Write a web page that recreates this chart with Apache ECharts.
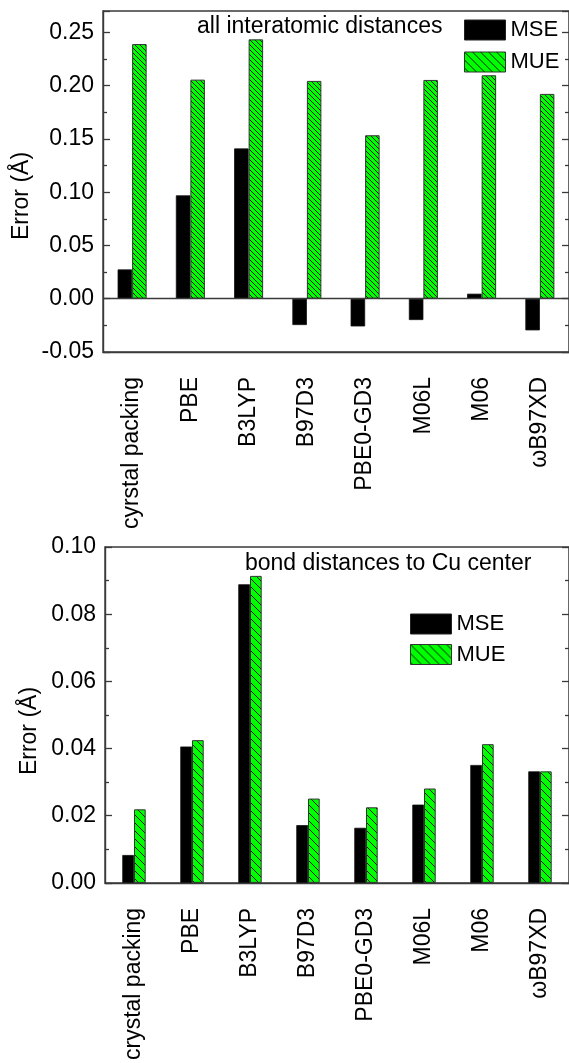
<!DOCTYPE html>
<html><head><meta charset="utf-8">
<script src="https://cdn.jsdelivr.net/npm/echarts@6/dist/echarts.min.js"></script>
<style>html,body{margin:0;padding:0;background:#fff}#c{width:569px;height:1063px}</style>
</head><body><div id="c"></div>
<script>
// ---- data ----
const categoriesTop = ['cyrstal packing','PBE','B3LYP','B97D3','PBE0-GD3','M06L','M06','\u03c9B97XD'];
const categoriesBottom = ['crystal packing','PBE','B3LYP','B97D3','PBE0-GD3','M06L','M06','\u03c9B97XD'];
const mseTop = [0.0275, 0.097, 0.141, -0.0247, -0.026, -0.020, 0.0047, -0.0297];
const mueTop = [0.239, 0.2056, 0.2434, 0.2044, 0.1534, 0.2053, 0.2097, 0.1922];
const mseBottom = [0.0083, 0.0406, 0.0889, 0.0172, 0.0164, 0.0233, 0.0351, 0.0332];
const mueBottom = [0.0219, 0.0425, 0.0914, 0.0251, 0.0225, 0.0281, 0.0413, 0.0332];
const titleTop = 'all interatomic distances';
const titleBottom = 'bond distances to Cu center';
const yNameText = 'Error (\u00c5)';
const seriesNames = ['MSE', 'MUE'];

const FONT = "'Liberation Sans', Arial, sans-serif";
const FRAME = '#3a3a3a';

function hatch(size) {
  const c = document.createElement('canvas');
  c.width = size; c.height = size;
  const g = c.getContext('2d');
  g.fillStyle = '#00ff00';
  g.fillRect(0, 0, size, size);
  g.strokeStyle = '#000';
  g.lineWidth = 0.9;
  g.beginPath();
  g.moveTo(-1, -1); g.lineTo(size + 1, size + 1);
  g.moveTo(-1, size - 1); g.lineTo(1, size + 1);
  g.moveTo(size - 1, -1); g.lineTo(size + 1, 1);
  g.stroke();
  return { image: c, repeat: 'repeat' };
}

const chart = echarts.init(document.getElementById('c'), null, { renderer: 'canvas' });

function yAxisPair(gridIndex, min, max, interval, showMax) {
  const common = {
    type: 'value', gridIndex, min, max, interval,
    splitLine: { show: false },
    axisLine: { show: true, lineStyle: { color: FRAME, width: 1.4 } },
    axisTick: { show: true, inside: true, length: 7, lineStyle: { color: FRAME, width: 1.3 } },
    minorTick: { show: true, splitNumber: 2, length: 4, lineStyle: { color: FRAME, width: 1.3 } }
  };
  return [
    Object.assign({}, common, {
      position: 'left',
      axisLabel: { show: true, color: '#000', fontSize: 23, fontFamily: FONT, margin: 9,
        showMaxLabel: showMax, formatter: v => v.toFixed(2) }
    }),
    Object.assign({}, common, { position: 'right', axisLabel: { show: false } })
  ];
}

function xAxis(gridIndex, data) {
  return {
    type: 'category', gridIndex, data,
    position: 'bottom',
    axisLine: { show: true, onZero: false, lineStyle: { color: FRAME, width: 1.4 } },
    axisTick: { show: false },
    axisLabel: { interval: 0, rotate: 90, margin: 25, color: '#000', fontSize: 23, fontFamily: FONT },
    splitLine: { show: false }
  };
}

const option = {
  animation: false,
  backgroundColor: '#fff',
  textStyle: { fontFamily: FONT },
  grid: [
    { left: 103, right: 0, top: 11, height: 341, show: true, borderColor: FRAME, borderWidth: 1.4, backgroundColor: 'transparent' },
    { left: 105, right: 0, top: 547, height: 340, show: true, borderColor: FRAME, borderWidth: 1.4, backgroundColor: 'transparent' }
  ],
  xAxis: [xAxis(0, categoriesTop), xAxis(1, categoriesBottom)],
  yAxis: [].concat(yAxisPair(0, -0.05, 0.27, 0.05, false), yAxisPair(1, 0, 0.10, 0.02, true)),
  legend: [
    {
      orient: 'vertical', left: 464, top: 19, padding: 0, itemGap: 10,
      itemWidth: 41, itemHeight: 20, icon: 'rect',
      textStyle: { fontSize: 22, color: '#000', fontFamily: FONT, lineHeight: 20 },
      data: [
        { name: seriesNames[0], itemStyle: { color: '#000', borderColor: '#222', borderWidth: 1 } },
        { name: seriesNames[1], itemStyle: { color: hatch(8), borderColor: '#333', borderWidth: 1 } }
      ],
      selectedMode: false
    },
    {
      orient: 'vertical', left: 410, top: 613, padding: 0, itemGap: 8.5,
      itemWidth: 41, itemHeight: 20, icon: 'rect',
      textStyle: { fontSize: 22, color: '#000', fontFamily: FONT, lineHeight: 20 },
      data: [
        { name: seriesNames[0], itemStyle: { color: '#000', borderColor: '#222', borderWidth: 1 } },
        { name: seriesNames[1], itemStyle: { color: hatch(9), borderColor: '#333', borderWidth: 1 } }
      ],
      selectedMode: false
    }
  ],
  graphic: [
    { type: 'text', x: 197, y: 27, silent: true,
      style: { text: titleTop, fontSize: 23, fontFamily: FONT, fill: '#000', align: 'left', verticalAlign: 'middle' } },
    { type: 'text', x: 245, y: 564, silent: true,
      style: { text: titleBottom, fontSize: 23, fontFamily: FONT, fill: '#000', align: 'left', verticalAlign: 'middle' } },
    { type: 'text', x: 22, y: 196, rotation: Math.PI / 2, silent: true,
      style: { text: yNameText, fontSize: 23, fontFamily: FONT, fill: '#000', align: 'center', verticalAlign: 'middle' } },
    { type: 'text', x: 30, y: 731, rotation: Math.PI / 2, silent: true,
      style: { text: yNameText, fontSize: 23, fontFamily: FONT, fill: '#000', align: 'center', verticalAlign: 'middle' } }
  ],
  series: [
    { name: seriesNames[0], type: 'bar', xAxisIndex: 0, yAxisIndex: 0, data: mseTop,
      barWidth: 14.5, barGap: '0%',
      itemStyle: { color: '#000', borderColor: '#111', borderWidth: 0.8 },
      markLine: { silent: true, symbol: 'none', label: { show: false },
        lineStyle: { color: FRAME, width: 1.4, type: 'solid' }, data: [{ yAxis: 0 }] } },
    { name: seriesNames[1], type: 'bar', xAxisIndex: 0, yAxisIndex: 0, data: mueTop,
      barWidth: 14.5, barGap: '0%',
      itemStyle: { color: hatch(5), borderColor: '#333', borderWidth: 1 } },
    { name: seriesNames[0], type: 'bar', xAxisIndex: 1, yAxisIndex: 2, data: mseBottom,
      barWidth: 11.7, barGap: '0%',
      itemStyle: { color: '#000', borderColor: '#111', borderWidth: 0.8 } },
    { name: seriesNames[1], type: 'bar', xAxisIndex: 1, yAxisIndex: 2, data: mueBottom,
      barWidth: 11.7, barGap: '0%',
      itemStyle: { color: hatch(8), borderColor: '#333', borderWidth: 1 } }
  ]
};
chart.setOption(option);
</script>
</body></html>
